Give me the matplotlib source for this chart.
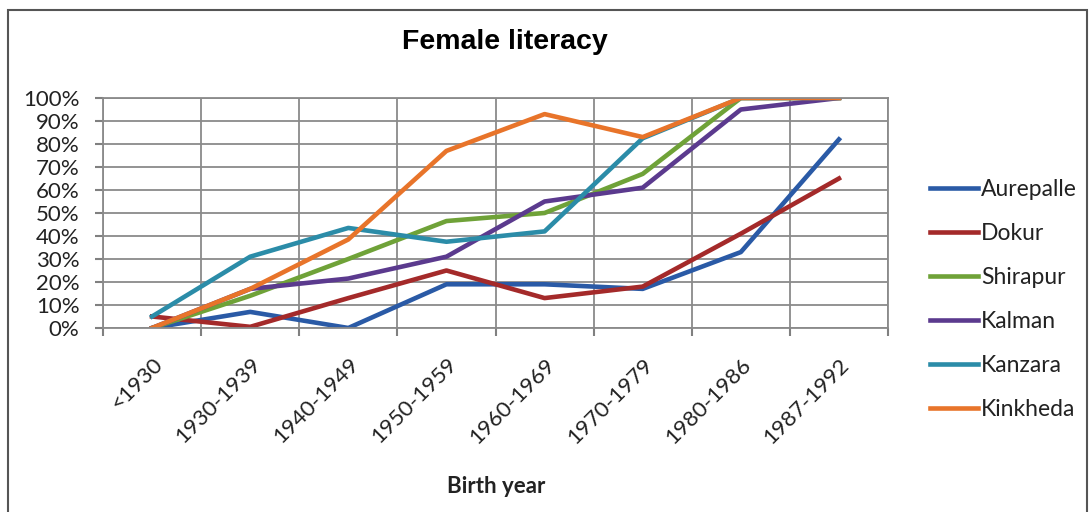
import matplotlib
matplotlib.use("Agg")
from matplotlib import pyplot as plt
from matplotlib.ticker import FuncFormatter, FixedLocator
from matplotlib.patches import Rectangle

birth_years = ["<1930", "1930-1939", "1940-1949", "1950-1959",
               "1960-1969", "1970-1979", "1980-1986", "1987-1992"]

aurepalle = [0, 7, 0, 19, 19, 17, 33, 82]
dokur = [5, 0.5, 13, 25, 13, 18, 41, 65]
shirapur = [0, 14, 30, 46.5, 50, 67, 100, 100]
kalman = [0, 17, 21.5, 31, 55, 61, 95, 100]
kanzara = [5, 31, 43.5, 37.5, 42, 82.5, 100, 100]
kinkheda = [0, 17, 38.5, 77, 93, 83, 100, 100]

villages = ["Aurepalle", "Dokur", "Shirapur", "Kalman", "Kanzara", "Kinkheda"]
colours = ["#2a5aa6", "#a42a2a", "#6fa238", "#5b3a8e", "#2b8ca8", "#e8742a"]

plt.rcParams["font.family"] = ["Lato", "DejaVu Sans"]

fig = plt.figure(figsize=(10.9, 5.12), dpi=100)
ax = fig.add_axes([0.0945, 0.3594, 0.7202, 0.4492])

x = range(len(birth_years))
series = [aurepalle, dokur, shirapur, kalman, kanzara, kinkheda]
for vals, name, c in zip(series, villages, colours):
    ax.plot(x, vals, color=c, lw=3.3, label=name)

ax.set_xlim(-0.5, len(birth_years) - 0.5)
ax.set_ylim(0, 100)
ax.set_yticks(range(0, 101, 10))
ax.yaxis.set_major_formatter(FuncFormatter(lambda v, p: f"{int(v)}%"))
ax.xaxis.set_major_locator(FixedLocator([i - 0.5 for i in range(len(birth_years) + 1)]))
ax.xaxis.set_major_formatter(FuncFormatter(lambda v, p: ""))
ax.xaxis.set_minor_locator(FixedLocator(list(x)))
ax.set_xticklabels(birth_years, minor=True, rotation=45, ha="right",
                   rotation_mode="anchor", fontsize=16, color="#222222")
ax.tick_params(axis="x", which="minor", length=0, pad=19)
ax.tick_params(axis="x", which="major", length=6, color="#808080", width=1.5)
ax.tick_params(axis="y", length=6, color="#808080", width=1.5, labelsize=16,
               labelcolor="#222222", pad=11)

ax.grid(True, which="major", color="#8a8a8a", lw=1.3)
for s in ax.spines.values():
    s.set_color("#8a8a8a")
    s.set_linewidth(1.3)

fig.text(0.4635, 0.917, "Female literacy", ha="center", va="center",
         fontsize=20.5, fontweight="bold", family="Liberation Sans")
fig.text(0.455, 0.049, "Birth year", ha="center", va="center",
         fontsize=16, fontweight="bold", color="#222222")

leg = fig.legend(loc="upper left", bbox_to_anchor=(0.834, 0.69), frameon=False,
                 fontsize=16.5, handlelength=2.1, handletextpad=0.15,
                 labelspacing=1.0)
for t in leg.get_texts():
    t.set_color("#222222")

# outer chart frame
fig.patches.append(Rectangle((0.0075, -0.02), 0.99, 1.0, transform=fig.transFigure,
                             fill=False, edgecolor="#555555", lw=1.5))

fig.savefig("out.png", dpi=100)
